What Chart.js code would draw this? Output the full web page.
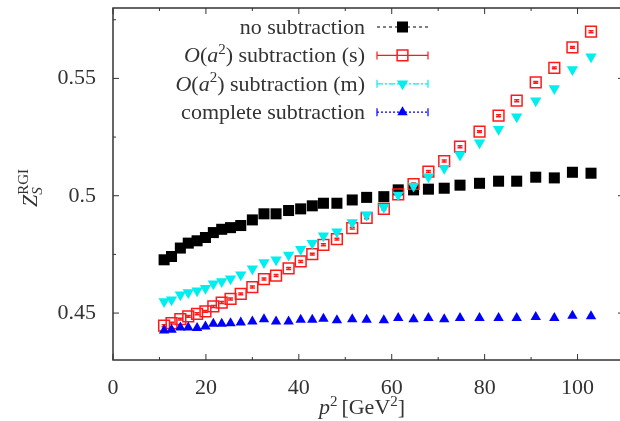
<!DOCTYPE html>
<html>
<head>
<meta charset="utf-8">
<script src="https://cdn.jsdelivr.net/npm/chart.js@4.4.1/dist/chart.umd.min.js"></script>
<style>
  html, body { margin: 0; padding: 0; background: #fff; overflow: hidden; }
  #plot { display: block; }
</style>
</head>
<body>
<canvas id="plot" width="624" height="421"></canvas>
<script>
// p^2 in GeV^2
const p2 = [11.0, 12.6, 14.5, 16.2, 18.1, 19.9, 21.6, 23.4, 25.3, 27.5, 30.0, 32.5, 35.1, 37.8, 40.4, 42.9, 45.3,
  48.2, 51.5, 54.6, 58.3, 61.4, 64.7, 67.9, 71.3, 74.7, 78.9, 83.0, 86.9, 91.0, 95.0, 98.9, 102.9]

const noSub = [0.4727, 0.4741, 0.4777, 0.4798, 0.4808, 0.4822, 0.4843, 0.4857, 0.4864, 0.4873, 0.4897, 0.4923,
  0.4923, 0.4937, 0.4944, 0.4957, 0.4968, 0.4968, 0.4982, 0.4993, 0.4996, 0.5025, 0.5025, 0.5028, 0.5032,
  0.5045, 0.5053, 0.5062, 0.5062, 0.5079, 0.5076, 0.5100, 0.5096]

const subS = [0.4446, 0.4457, 0.4474, 0.4486, 0.4497, 0.4507, 0.4528, 0.4545, 0.4560, 0.4582, 0.4611, 0.4645,
  0.4660, 0.4690, 0.4720, 0.4751, 0.4791, 0.4815, 0.4862, 0.4906, 0.4944, 0.5006, 0.5050, 0.5103, 0.5148,
  0.5209, 0.5273, 0.5341, 0.5405, 0.5483, 0.5545, 0.5632, 0.5699]

const subSErr = [0.0004, 0.0004, 0.0004, 0.0004, 0.0004, 0.0004, 0.0004, 0.0004, 0.0004, 0.0004, 0.0004, 0.0004,
  0.0004, 0.0004, 0.0004, 0.0004, 0.0004, 0.0004, 0.0004, 0.0004, 0.0004, 0.0004, 0.0004, 0.0004, 0.0004,
  0.0004, 0.0004, 0.0004, 0.0004, 0.0004, 0.0004, 0.0004, 0.0004]

const subM = [0.4549, 0.4557, 0.4578, 0.4588, 0.4595, 0.4606, 0.4625, 0.4635, 0.4646, 0.4663, 0.4689, 0.4715,
  0.4727, 0.4747, 0.4772, 0.4798, 0.4829, 0.4847, 0.4886, 0.4918, 0.4951, 0.5003, 0.5042, 0.5081, 0.5117,
  0.5174, 0.5226, 0.5283, 0.5337, 0.5405, 0.5457, 0.5538, 0.5592]

const complete = [0.4426, 0.4429, 0.4439, 0.4439, 0.4436, 0.4443, 0.4454, 0.4454, 0.4457, 0.4460, 0.4464, 0.4474,
  0.4464, 0.4464, 0.4471, 0.4471, 0.4476, 0.4469, 0.4474, 0.4471, 0.4469, 0.4479, 0.4474, 0.4479, 0.4474,
  0.4479, 0.4479, 0.4479, 0.4479, 0.4483, 0.4479, 0.4489, 0.4486]

const xTicks = [0, 20, 40, 60, 80, 100]
const xMinor = [10, 30, 50, 70, 90, 110]
const yTicks = [0.45, 0.5, 0.55]
const yMinor = [0.475, 0.525, 0.575]

const FONT = "'Liberation Serif', 'DejaVu Serif', serif"
const TXT = '#333'

const pts = (ys) => ys.map((y, i) => ({ x: p2[i], y: y }))

// draws a run of text pieces (italic / sup / sub) starting at x
function richWidth(ctx, parts, size) {
  let w = 0
  parts.forEach(p => {
    ctx.font = (p.it ? 'italic ' : '') + Math.round(size * (p.s || 1)) + 'px ' + FONT
    w += ctx.measureText(p.t).width + (p.gap || 0)
  })
  return w
}
function drawRich(ctx, parts, x, y, size, align) {
  let cx = x
  if (align === 'right') cx = x - richWidth(ctx, parts, size)
  if (align === 'center') cx = x - richWidth(ctx, parts, size) / 2
  ctx.textAlign = 'left'
  ctx.textBaseline = 'alphabetic'
  parts.forEach(p => {
    ctx.font = (p.it ? 'italic ' : '') + Math.round(size * (p.s || 1)) + 'px ' + FONT
    ctx.fillText(p.t, cx, y + (p.dy || 0) * size)
    cx += ctx.measureText(p.t).width + (p.gap || 0)
  })
}

const legendRows = [
  { parts: [{ t: 'no subtraction' }], color: '#000', dash: [3, 3], caps: false,
    marker: { pointStyle: 'rect', radius: 7.8, rotation: 0, borderWidth: 0 }, fill: '#000' },
  { parts: [{ t: 'O', it: true }, { t: '(' }, { t: 'a', it: true }, { t: '2', s: 0.7, dy: -0.38 }, { t: ') subtraction (s)' }],
    color: '#ff1a1a', dash: [], caps: true,
    marker: { pointStyle: 'rect', radius: 7.6, rotation: 0, borderWidth: 1.5 }, fill: 'rgba(0,0,0,0)' },
  { parts: [{ t: 'O', it: true }, { t: '(' }, { t: 'a', it: true }, { t: '2', s: 0.7, dy: -0.38 }, { t: ') subtraction (m)' }],
    color: '#00eeee', dash: [6, 2, 2, 2], caps: true,
    marker: { pointStyle: 'triangle', radius: 6.5, rotation: 180, borderWidth: 0 }, fill: '#00eeee' },
  { parts: [{ t: 'complete subtraction' }], color: '#0000ff', dash: [2, 2], caps: true,
    marker: { pointStyle: 'triangle', radius: 6, rotation: 0, borderWidth: 0 }, fill: '#0000ff' }
]

const gnuplotLook = {
  id: 'gnuplotLook',
  afterDatasetDraw(chart, args) {
    if (args.index !== 1) return
    const ctx = chart.ctx
    const xs = chart.scales.x, ys = chart.scales.y
    ctx.save()
    ctx.strokeStyle = '#ff1a1a'
    ctx.lineWidth = 1.5
    subS.forEach((v, i) => {
      const px = xs.getPixelForValue(p2[i])
      const y1 = ys.getPixelForValue(v - subSErr[i]), y2 = ys.getPixelForValue(v + subSErr[i])
      ctx.beginPath()
      ctx.moveTo(px, y1); ctx.lineTo(px, y2)
      ctx.moveTo(px - 2.5, y1); ctx.lineTo(px + 2.5, y1)
      ctx.moveTo(px - 2.5, y2); ctx.lineTo(px + 2.5, y2)
      ctx.stroke()
    })
    ctx.restore()
  },
  afterDraw(chart) {
    const ctx = chart.ctx
    const a = chart.chartArea
    const xs = chart.scales.x, ys = chart.scales.y
    ctx.save()
    // frame
    ctx.strokeStyle = TXT
    ctx.lineWidth = 1.5
    ctx.strokeRect(a.left, a.top, a.right - a.left, a.bottom - a.top)
    // inward ticks on all sides
    ctx.lineWidth = 1
    const tick = (vals, len) => {
      vals.forEach(v => {
        const px = xs.getPixelForValue(v)
        ctx.beginPath()
        ctx.moveTo(px, a.bottom); ctx.lineTo(px, a.bottom - len)
        ctx.moveTo(px, a.top); ctx.lineTo(px, a.top + len)
        ctx.stroke()
      })
    }
    const ytick = (vals, len) => {
      vals.forEach(v => {
        const py = ys.getPixelForValue(v)
        ctx.beginPath()
        ctx.moveTo(a.left, py); ctx.lineTo(a.left + len, py)
        ctx.moveTo(a.right, py); ctx.lineTo(a.right - len, py)
        ctx.stroke()
      })
    }
    tick(xTicks, 6); tick(xMinor, 3)
    ytick(yTicks, 6); ytick(yMinor, 3)

    // axis titles
    ctx.fillStyle = TXT
    drawRich(ctx, [{ t: 'p', it: true }, { t: '2', s: 0.7, dy: -0.38, gap: 4 }, { t: '[GeV' }, { t: '2', s: 0.7, dy: -0.38 }, { t: ']' }],
      362, 414, 22, 'center')
    ctx.save()
    ctx.translate(37, 188)
    ctx.rotate(-Math.PI / 2)
    const zw = richWidth(ctx, [{ t: 'Z', it: true }], 22)
    const sup = richWidth(ctx, [{ t: 'RGI', s: 0.68 }], 22)
    const x0 = -(zw + sup) / 2
    drawRich(ctx, [{ t: 'Z', it: true }], x0, 0, 22, 'left')
    drawRich(ctx, [{ t: 'S', it: true, s: 0.68 }], x0 + zw, 5, 22, 'left')
    drawRich(ctx, [{ t: 'RGI', s: 0.68 }], x0 + zw, -9, 22, 'left')
    ctx.restore()

    // legend, gnuplot style: text right-aligned, sample on the right
    legendRows.forEach((row, i) => {
      const y = 27 + 28.4 * i
      ctx.fillStyle = TXT
      drawRich(ctx, row.parts, 365, y + 7, 22, 'right')
      ctx.strokeStyle = row.color
      ctx.lineWidth = 1.2
      ctx.setLineDash(row.dash)
      ctx.beginPath()
      ctx.moveTo(377, y); ctx.lineTo(428, y)
      ctx.stroke()
      ctx.setLineDash([])
      if (row.caps) {
        ctx.beginPath()
        ctx.moveTo(377, y - 4); ctx.lineTo(377, y + 4)
        ctx.moveTo(428, y - 4); ctx.lineTo(428, y + 4)
        ctx.stroke()
      }
      ctx.fillStyle = row.fill
      ctx.strokeStyle = row.color
      ctx.lineWidth = row.marker.borderWidth || 1
      Chart.helpers.drawPoint(ctx, row.marker, 402.5, y)
    })
    ctx.restore()
  }
}

const noPad = s => { s.paddingTop = 0; s.paddingBottom = 0; s.paddingLeft = 0; s.paddingRight = 0 }

new Chart(document.getElementById('plot'), {
  type: 'scatter',
  data: {
    datasets: [
      { label: 'no subtraction', data: pts(noSub), order: 4, pointStyle: 'rect', pointRadius: 7.8,
        backgroundColor: '#000', borderColor: '#000', borderWidth: 0 },
      { label: 'O(a2) subtraction (s)', data: pts(subS), order: 3, pointStyle: 'rect', pointRadius: 7.6,
        backgroundColor: 'rgba(0,0,0,0)', borderColor: '#ff1a1a', borderWidth: 1.5 },
      { label: 'O(a2) subtraction (m)', data: pts(subM), order: 2, pointStyle: 'triangle', pointRotation: 180,
        pointRadius: 6.5, backgroundColor: '#00eeee', borderColor: '#00eeee', borderWidth: 0 },
      { label: 'complete subtraction', data: pts(complete), order: 1, pointStyle: 'triangle', pointRadius: 6,
        backgroundColor: '#0000ff', borderColor: '#0000ff', borderWidth: 0 }
    ]
  },
  options: {
    responsive: false,
    animation: false,
    devicePixelRatio: 1,
    layout: { autoPadding: false, padding: { top: 8, right: 0, left: 0, bottom: 0 } },
    plugins: { legend: { display: false }, tooltip: { enabled: false } },
    scales: {
      x: {
        type: 'linear', min: 0, max: 110,
        grid: { display: false }, border: { display: false },
        afterBuildTicks: s => { s.ticks = xTicks.map(v => ({ value: v })) },
        afterFit: s => { s.height = 61; noPad(s) },
        ticks: { color: TXT, padding: 7, maxRotation: 0, font: { family: FONT, size: 22 },
          callback: v => String(v) }
      },
      y: {
        type: 'linear', min: 0.43, max: 0.58,
        grid: { display: false }, border: { display: false },
        afterBuildTicks: s => { s.ticks = yTicks.map(v => ({ value: v })) },
        afterFit: s => { s.width = 113; noPad(s) },
        ticks: { color: TXT, padding: 9, font: { family: FONT, size: 22 },
          callback: v => String(v) }
      }
    }
  },
  plugins: [gnuplotLook]
})
</script>
</body>
</html>
